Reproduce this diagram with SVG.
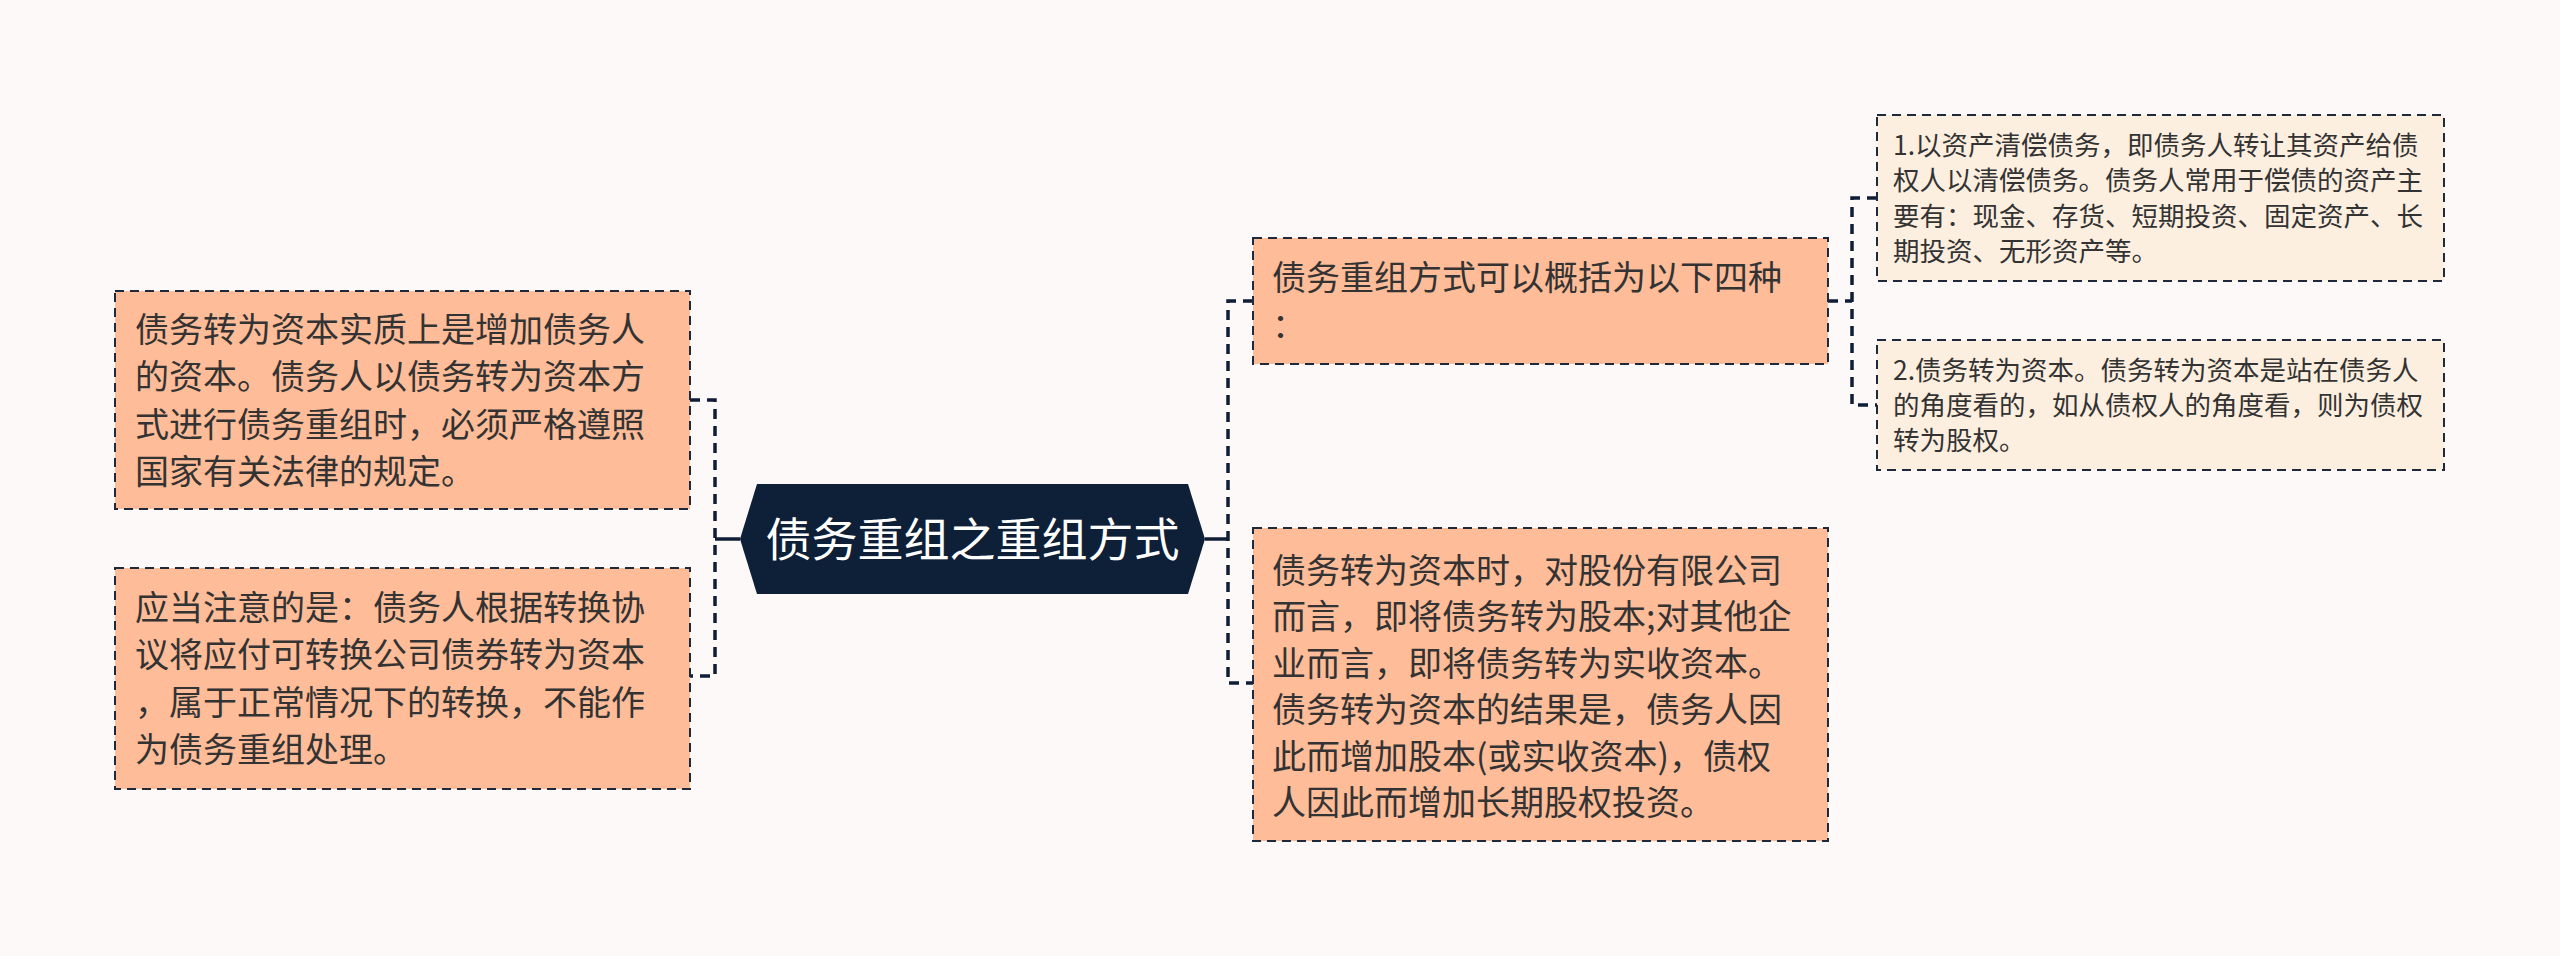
<svg xmlns="http://www.w3.org/2000/svg" width="2560" height="956" viewBox="0 0 2560 956">
<style>
.bg{fill:#fdf9f8}
.box{fill:#febc98;stroke:#1e2a3b;stroke-width:2;stroke-dasharray:9 6}
.sub{fill:#fdefe0;stroke:#1e2a3b;stroke-width:2;stroke-dasharray:9 6}
.t{font-family:"Microsoft YaHei","Noto Sans CJK SC",sans-serif;fill:#333333}
.t34{font-size:34px}
.t27{font-size:26.5px}
.title{font-family:"Microsoft YaHei","Noto Sans CJK SC",sans-serif;font-size:46px;fill:#ffffff}
.c{fill:none;stroke:#0f1e36;stroke-width:3.5}
.d{stroke-dasharray:10 7}
</style>
<rect class="bg" x="0" y="0" width="2560" height="956"/>
<g id="connectors">
<path class="c" d="M740 539H715"/>
<path class="c d" d="M690 400H715V676H690"/>
<path class="c" d="M1205 539H1228"/>
<path class="c d" d="M1253 301H1228V683H1253"/>
<path class="c d" d="M1828 301H1852"/>
<path class="c d" d="M1877 198H1852V405H1877"/>
</g>
<g id="root">
<polygon points="740,539 757,484 1188,484 1205,539 1188,594 757,594" fill="#0e1f38"/>
<text class="title" x="972.5" y="556" text-anchor="middle">债务重组之重组方式</text>
</g>
<g id="left1">
<rect class="box" x="115" y="291" width="575" height="218"/>
<text class="t t34"><tspan x="135" y="342">债务转为资本实质上是增加债务人</tspan><tspan x="135" y="389">的资本。债务人以债务转为资本方</tspan><tspan x="135" y="437">式进行债务重组时，必须严格遵照</tspan><tspan x="135" y="484">国家有关法律的规定。</tspan></text>
</g>
<g id="left2">
<rect class="box" x="115" y="568" width="575" height="221"/>
<text class="t t34"><tspan x="135" y="620">应当注意的是：债务人根据转换协</tspan><tspan x="135" y="667">议将应付可转换公司债券转为资本</tspan><tspan x="135" y="715">，属于正常情况下的转换，不能作</tspan><tspan x="135" y="762">为债务重组处理。</tspan></text>
</g>
<g id="right1">
<rect class="box" x="1253" y="238" width="575" height="126"/>
<text class="t t34"><tspan x="1272" y="290">债务重组方式可以概括为以下四种</tspan><tspan x="1272" y="338">：</tspan></text>
</g>
<g id="right2">
<rect class="box" x="1253" y="528" width="575" height="313"/>
<text class="t t34"><tspan x="1272" y="583">债务转为资本时，对股份有限公司</tspan><tspan x="1272" y="629">而言，即将债务转为股本;对其他企</tspan><tspan x="1272" y="676">业而言，即将债务转为实收资本。</tspan><tspan x="1272" y="722">债务转为资本的结果是，债务人因</tspan><tspan x="1272" y="769">此而增加股本(或实收资本)，债权</tspan><tspan x="1272" y="815">人因此而增加长期股权投资。</tspan></text>
</g>
<g id="sub1">
<rect class="sub" x="1877" y="115" width="567" height="166"/>
<text class="t t27"><tspan x="1893" y="155">1.以资产清偿债务，即债务人转让其资产给债</tspan><tspan x="1893" y="190">权人以清偿债务。债务人常用于偿债的资产主</tspan><tspan x="1893" y="226">要有：现金、存货、短期投资、固定资产、长</tspan><tspan x="1893" y="261">期投资、无形资产等。</tspan></text>
</g>
<g id="sub2">
<rect class="sub" x="1877" y="340" width="567" height="130"/>
<text class="t t27"><tspan x="1893" y="380">2.债务转为资本。债务转为资本是站在债务人</tspan><tspan x="1893" y="415">的角度看的，如从债权人的角度看，则为债权</tspan><tspan x="1893" y="450">转为股权。</tspan></text>
</g>
</svg>
